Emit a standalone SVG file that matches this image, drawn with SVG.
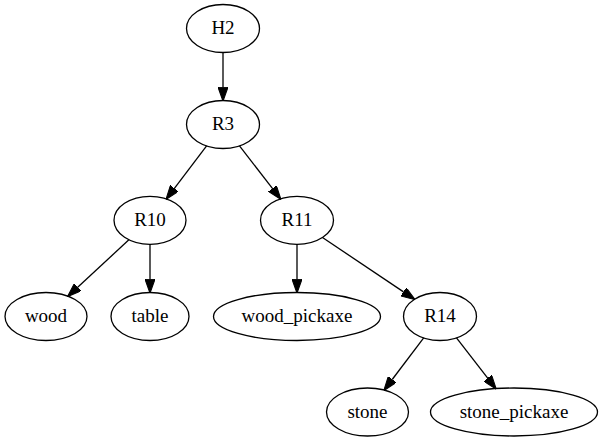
<svg xmlns="http://www.w3.org/2000/svg" width="603" height="443" viewBox="0 0 603 443">
<defs>
<marker id="arr" markerUnits="userSpaceOnUse" markerWidth="14" markerHeight="10" viewBox="0 0 13.3 9.4" refX="0" refY="4.7" orient="auto">
<path d="M0,0 L13.3,4.7 L0,9.4 Z" fill="#000" stroke="#000" stroke-width="1"/>
</marker>
</defs>
<style>
ellipse{fill:none;stroke:#000;stroke-width:1.3}
text{font-family:'Liberation Serif','DejaVu Serif',serif;font-size:19px;text-anchor:middle;fill:#000}
.e line{stroke:#000;stroke-width:1.3;marker-end:url(#arr)}
</style>
<rect width="603" height="443" fill="#fff"/>
<g class="e" id="edges">
<line x1="223" y1="52.5" x2="223" y2="87.2"/>
<line x1="206.6" y1="145.9" x2="174.4" y2="188.3"/>
<line x1="239.5" y1="145.9" x2="272.4" y2="188.4"/>
<line x1="128.9" y1="239.8" x2="77.7" y2="287.2"/>
<line x1="150" y1="244.3" x2="150" y2="279.2"/>
<line x1="297" y1="244.3" x2="297" y2="279.2"/>
<line x1="322.5" y1="237.5" x2="403.5" y2="291.9"/>
<line x1="423.7" y1="337.9" x2="392.2" y2="379.5"/>
<line x1="456.5" y1="337.9" x2="487.7" y2="378.1"/>
</g>
<g id="H2"><ellipse cx="223" cy="28.5" rx="36.5" ry="24"/><text x="223" y="34">H2</text></g>
<g id="R3"><ellipse cx="223" cy="124.5" rx="36.5" ry="24"/><text x="223" y="130">R3</text></g>
<g id="R10"><ellipse cx="150" cy="220.3" rx="36" ry="24"/><text x="150" y="225.8">R10</text></g>
<g id="R11"><ellipse cx="297" cy="220.3" rx="36.5" ry="24"/><text x="297" y="225.8">R11</text></g>
<g id="wood"><ellipse cx="46" cy="316.5" rx="41" ry="24"/><text x="46" y="322">wood</text></g>
<g id="table"><ellipse cx="150" cy="316.5" rx="39" ry="24"/><text x="150" y="322">table</text></g>
<g id="wood_pickaxe"><ellipse cx="297" cy="316.5" rx="83.5" ry="24"/><text x="297" y="322">wood_pickaxe</text></g>
<g id="R14"><ellipse cx="440" cy="316.5" rx="36.5" ry="24"/><text x="440" y="322">R14</text></g>
<g id="stone"><ellipse cx="367.5" cy="412" rx="41" ry="24"/><text x="367.5" y="417.5">stone</text></g>
<g id="stone_pickaxe"><ellipse cx="514" cy="412" rx="83.5" ry="24"/><text x="514" y="417.5">stone_pickaxe</text></g>
</svg>
